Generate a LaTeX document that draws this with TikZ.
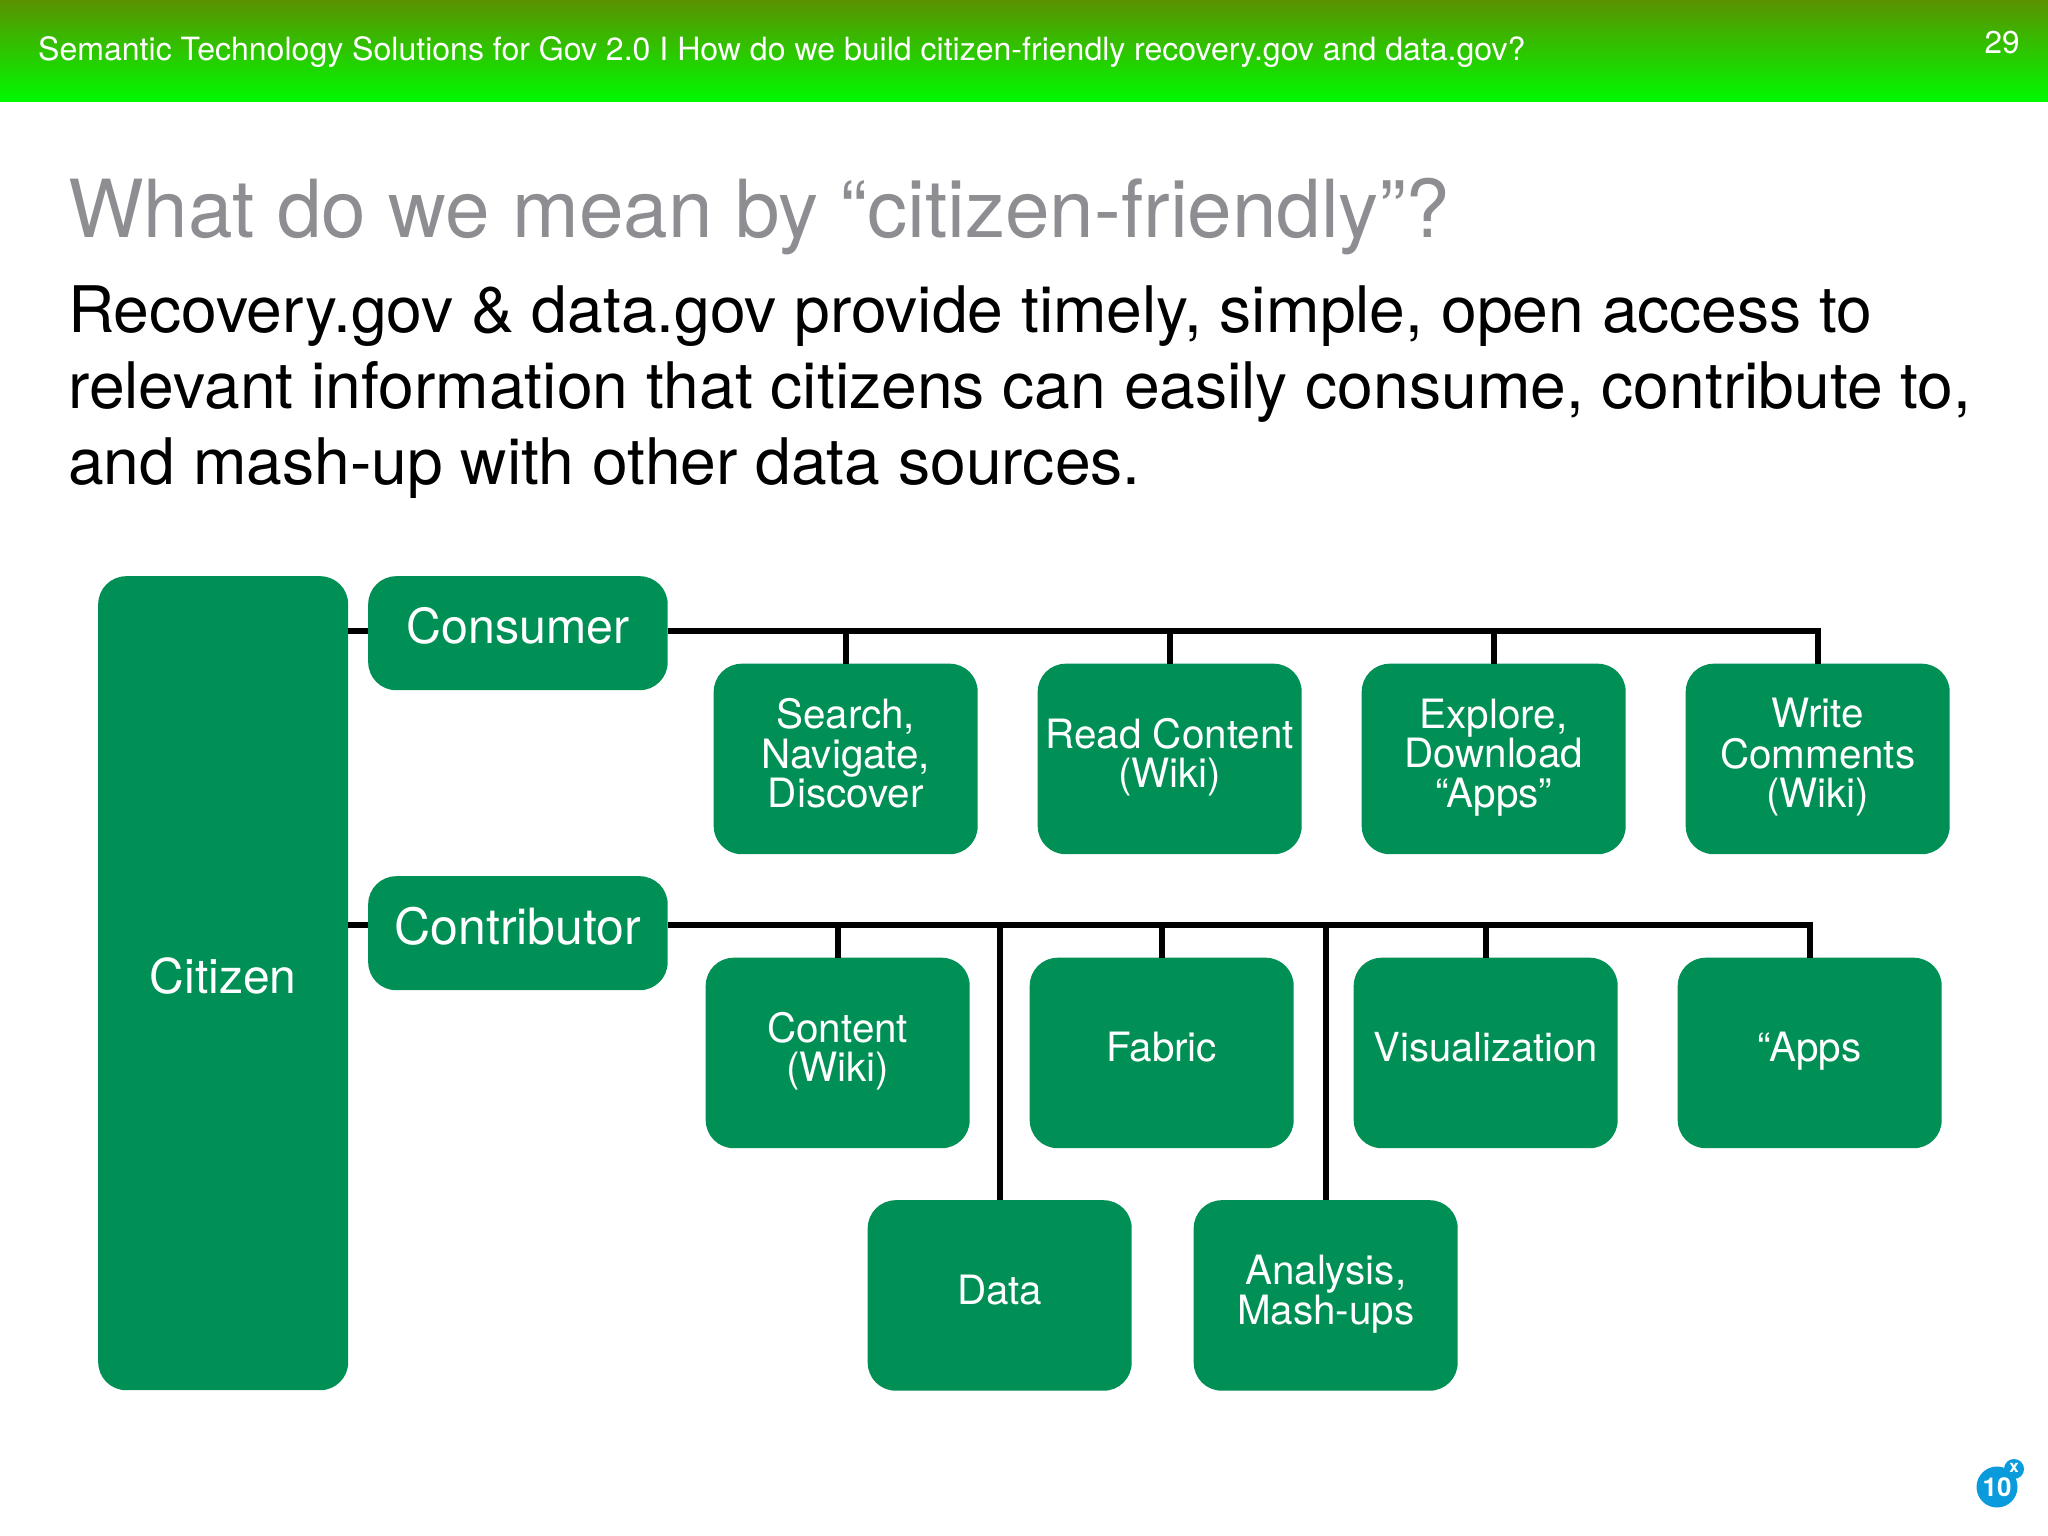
\documentclass[tikz,border=0pt]{standalone}
\usepackage{fontspec}
\setmainfont{TeX Gyre Heros}
\definecolor{boxgreen}{RGB}{0,144,86}
\definecolor{titlegray}{RGB}{142,142,146}
\definecolor{badgeblue}{RGB}{10,155,220}
\definecolor{headtop}{RGB}{90,146,0}
\definecolor{headmid}{RGB}{15,190,0}
\definecolor{headbot}{RGB}{0,250,0}
\newcommand{\boxtext}[2][5pt]{\raisebox{#1}{\begin{tabular}{@{}c@{}}#2\end{tabular}}}
\tikzset{
  greenbox/.style={draw=none,fill=boxgreen,rounded corners=28pt,text=white,inner sep=0pt,anchor=north west},
  leafbox/.style={greenbox,minimum width=264pt,minimum height=190.5pt,
    font=\fontsize{40.4}{40}\selectfont},
  rolebox/.style={greenbox,minimum width=299.5pt,minimum height=114pt},
  conn/.style={draw=black,line width=6pt},
}
\begin{document}
\begin{tikzpicture}[x=1pt,y=-1pt]
\useasboundingbox (0,0) rectangle (2048,1536);
\fill[white] (0,0) rectangle (2048,1536);
% header band
\shade[top color=headtop,middle color=headmid,bottom color=headbot] (0,0) rectangle (2048,102);
\node[anchor=base west,inner sep=0pt,text=white,font=\fontsize{32.05}{34}\selectfont] (headtxt) at (38,61)
  {Semantic Technology Solutions for Gov 2.0 I How do we build citizen-friendly recovery.gov and data.gov?};
\node[anchor=base,inner sep=0pt,text=white,font=\fontsize{31.5}{34}\selectfont] (pagenum) at (2002,54) {29};
% title and body
\node[anchor=base west,inner sep=0pt,text=titlegray,font=\fontsize{80.1}{90}\selectfont] (title) at (68,237)
  {What do we mean by “citizen-friendly”?};
\node[anchor=base west,inner sep=0pt,text=black,font=\fontsize{64.2}{76}\selectfont] (bodyA) at (68,332.5)
  {Recovery.gov \& data.gov provide timely, simple, open access to};
\node[anchor=base west,inner sep=0pt,text=black,font=\fontsize{64.2}{76}\selectfont] (bodyB) at (68,408.5)
  {relevant information that citizens can easily consume, contribute to,};
\node[anchor=base west,inner sep=0pt,text=black,font=\fontsize{64.2}{76}\selectfont] (bodyC) at (68,484.5)
  {and mash-up with other data sources.};
% nodes
\node[greenbox,minimum width=250pt,minimum height=814pt,font=\fontsize{48}{50}\selectfont] (citizen) at (98,576) {\boxtext[1pt]{Citizen}};
\node[rolebox,font=\fontsize{48.3}{50}\selectfont] (consumer) at (368,576) {\boxtext[0pt]{Consumer}};
\node[rolebox,font=\fontsize{50}{50}\selectfont] (contributor) at (368,876) {\boxtext[2pt]{Contributor}};
\node[leafbox] (search) at (713.5,663.5) {\boxtext[2pt]{Search,\\[-1.8pt]Navigate,\\[-1.8pt]Discover}};
\node[leafbox] (read) at (1037.5,663.5) {\boxtext[2pt]{Read Content\\[-1.8pt](Wiki)}};
\node[leafbox] (explore) at (1361.5,663.5) {\boxtext[2pt]{Explore,\\[-1.8pt]Download\\[-1.8pt]“Apps”}};
\node[leafbox] (write) at (1685.5,663.5) {\boxtext[2pt]{Write\\[-1.8pt]Comments\\[-1.8pt](Wiki)}};
\node[leafbox] (content) at (705.5,957.5) {\boxtext[2pt]{Content\\[-1.8pt](Wiki)}};
\node[leafbox] (fabric) at (1029.5,957.5) {\boxtext[1pt]{Fabric}};
\node[leafbox,font=\fontsize{40}{40}\selectfont] (visual) at (1353.5,957.5) {\boxtext[3pt]{Visualization}};
\node[leafbox] (apps) at (1677.5,957.5) {\boxtext[2pt]{“Apps}};
\node[leafbox] (data) at (867.5,1200) {\boxtext[2pt]{Data}};
\node[leafbox] (analysis) at (1193.5,1200) {\boxtext[4pt]{Analysis,\\[-1.8pt]Mash-ups}};
% connectors
\coordinate (busA) at (667.5,630.5);
\coordinate (busB) at (667.5,924.5);
\draw[conn] (citizen.east |- busA) -- (consumer.west |- busA);
\draw[conn] (citizen.east |- busB) -- (contributor.west |- busB);
\draw[conn] (busA) -| (write.north);
\draw[conn] (search.north) -- (search.north |- busA);
\draw[conn] (read.north) -- (read.north |- busA);
\draw[conn] (explore.north) -- (explore.north |- busA);
\draw[conn] (busB) -| (apps.north);
\draw[conn] (content.north) -- (content.north |- busB);
\draw[conn] (fabric.north) -- (fabric.north |- busB);
\draw[conn] (visual.north) -- (visual.north |- busB);
\draw[conn] (data.north) -- (data.north |- busB);
\draw[conn] (analysis.north) -- (analysis.north |- busB);
% badge
\fill[badgeblue] (1997,1487) circle (20.5pt);
\fill[badgeblue] (2014,1469) circle (10pt);
\node[inner sep=0pt,text=white,font=\bfseries\fontsize{26}{26}\selectfont] (badgenum) at (1997,1487) {10};
\node[inner sep=0pt,text=white,font=\bfseries\fontsize{17}{17}\selectfont] (badgex) at (2014,1468) {x};
\end{tikzpicture}
\end{document}
